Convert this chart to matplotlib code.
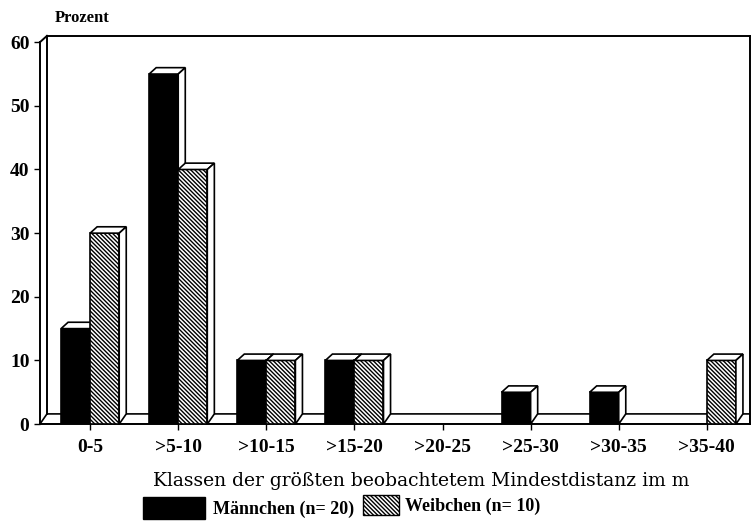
import numpy as np
import matplotlib.pyplot as plt
from matplotlib.patches import Polygon

# Daten
klassen = ["0-5", ">5-10", ">10-15", ">15-20", ">20-25", ">25-30", ">30-35", ">35-40"]
maennchen = [15, 55, 10, 10, 0, 5, 5, 0]
weibchen = [30, 40, 10, 10, 0, 0, 0, 10]
y_ticks = [0, 10, 20, 30, 40, 50, 60]

plt.rcParams['font.family'] = ['Liberation Serif', 'DejaVu Serif']
plt.rcParams['hatch.linewidth'] = 1.0

fig = plt.figure(figsize=(7.53, 5.21), dpi=100)
ax = fig.add_axes([0.053, 0.186, 0.943, 0.733])

x = np.arange(len(klassen))
w = 0.33
dx, dy = 0.08, 1.0
fdy = 1.6  # Bodentiefe
xmin, xmax = -0.57, 7.49
schraffur = '\\' * 8

# Boden (3D)
floor = Polygon([(xmin, 0), (xmin + dx, fdy), (xmax, fdy), (xmax, 0)],
                closed=True, facecolor='white', edgecolor='black', lw=1.2, zorder=1)
ax.add_patch(floor)


def bar3d(x0, h, face, hatch=None):
    if h <= 0:
        return
    x1 = x0 + w
    ax.bar(x0, h, width=w, align='edge', color=face, edgecolor='black',
           hatch=hatch, lw=1.2, zorder=3)
    top = Polygon([(x0, h), (x0 + dx, h + dy), (x1 + dx, h + dy), (x1, h)],
                  closed=True, facecolor='white', edgecolor='black', lw=1.2, zorder=3)
    side = Polygon([(x1, 0), (x1 + dx, fdy), (x1 + dx, h + dy), (x1, h)],
                   closed=True, facecolor='white', edgecolor='black', lw=1.2, zorder=3)
    ax.add_patch(top)
    ax.add_patch(side)


for i in range(len(klassen)):
    bar3d(x[i] - w, maennchen[i], 'black')
    bar3d(x[i], weibchen[i], 'white', hatch=schraffur)

# Rahmen / Rückwand
kw = dict(color='black', lw=1.4, clip_on=False, zorder=2)
ax.plot([xmin + dx, xmin + dx], [fdy, 60 + dy], **kw)
ax.plot([xmin, xmin + dx], [60, 60 + dy], **kw)
ax.plot([xmin + dx, xmax], [60 + dy, 60 + dy], **kw)
ax.plot([xmax, xmax], [0, 60 + dy], **kw)

ax.set_xlim(xmin, xmax)
ax.set_ylim(0, 60)
for s in ['top', 'right']:
    ax.spines[s].set_visible(False)
ax.spines['left'].set_linewidth(1.4)
ax.spines['bottom'].set_linewidth(1.4)

ax.set_yticks(y_ticks)
ax.set_yticklabels([str(v) for v in y_ticks], fontsize=14, fontweight='bold')
ax.set_xticks(x)
ax.set_xticklabels(klassen, fontsize=14, fontweight='bold')
ax.tick_params(axis='both', direction='out', length=4, width=1)
ax.tick_params(axis='x', pad=7)

fig.text(0.073, 0.965, "Prozent", fontsize=12, fontweight='bold', ha='left', va='center')
fig.text(0.56, 0.077, "Klassen der größten beobachtetem Mindestdistanz im m",
         fontsize=13.5, ha='center', va='center', family='DejaVu Serif')

# Legende
lax = fig.add_axes([0, 0, 1, 0.06])
lax.set_xlim(0, 753)
lax.set_ylim(0, 31)
lax.axis('off')
lax.add_patch(plt.Rectangle((143, 2), 62, 22, facecolor='black', edgecolor='black'))
lax.text(213, 12, "Männchen (n= 20)", fontsize=13, fontweight='bold', va='center')
lax.add_patch(plt.Rectangle((363, 6), 36, 20, facecolor='white', edgecolor='black',
                            hatch=schraffur, lw=1))
lax.text(405, 15, "Weibchen (n= 10)", fontsize=13, fontweight='bold', va='center')

fig.savefig("out.png", dpi=100)
